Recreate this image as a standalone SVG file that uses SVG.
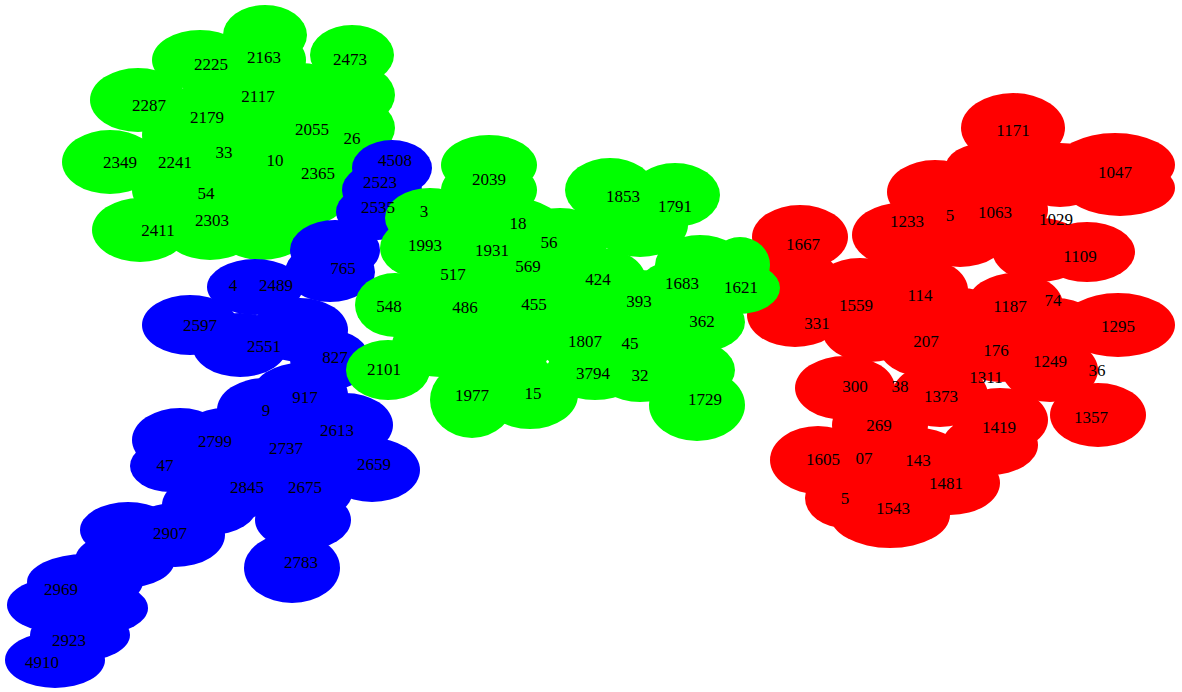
<svg xmlns="http://www.w3.org/2000/svg" width="1182" height="692" viewBox="0 0 1182 692">
<style>
.g{fill:#00ff00}
.b{fill:#0000ff}
.r{fill:#ff0000}
ellipse{stroke:none}
text{font-family:"Liberation Serif","Times New Roman",serif;font-size:17px;fill:#000;text-anchor:middle}
</style>
<rect width="1182" height="692" fill="#fff"/>
<g id="edges"/>
<g id="cluster-green-top" class="g">
<ellipse cx="265" cy="35" rx="42" ry="30"/>
<ellipse cx="352" cy="55" rx="42" ry="30"/>
<ellipse cx="200" cy="60" rx="48" ry="30"/>
<ellipse cx="138" cy="100" rx="48" ry="32"/>
<ellipse cx="110" cy="162" rx="48" ry="32"/>
<ellipse cx="140" cy="230" rx="48" ry="32"/>
<ellipse cx="210" cy="228" rx="48" ry="32"/>
<ellipse cx="262" cy="228" rx="48" ry="32"/>
<ellipse cx="300" cy="195" rx="48" ry="32"/>
<ellipse cx="340" cy="168" rx="48" ry="32"/>
<ellipse cx="350" cy="128" rx="45" ry="32"/>
<ellipse cx="350" cy="95" rx="45" ry="32"/>
<ellipse cx="300" cy="95" rx="48" ry="32"/>
<ellipse cx="250" cy="130" rx="48" ry="32"/>
<ellipse cx="180" cy="190" rx="48" ry="32"/>
<ellipse cx="250" cy="180" rx="48" ry="32"/>
<ellipse cx="230" cy="95" rx="48" ry="32"/>
<ellipse cx="310" cy="140" rx="48" ry="32"/>
<ellipse cx="190" cy="135" rx="48" ry="32"/>
<ellipse cx="175" cy="162" rx="48" ry="32"/>
<ellipse cx="258" cy="60" rx="48" ry="32"/>
</g>
<g id="cluster-blue" class="b">
<ellipse cx="392" cy="168" rx="40" ry="28"/>
<ellipse cx="382" cy="190" rx="40" ry="28"/>
<ellipse cx="378" cy="212" rx="42" ry="28"/>
<ellipse cx="335" cy="250" rx="45" ry="30"/>
<ellipse cx="330" cy="272" rx="45" ry="30"/>
<ellipse cx="255" cy="287" rx="48" ry="28"/>
<ellipse cx="190" cy="325" rx="48" ry="30"/>
<ellipse cx="240" cy="345" rx="48" ry="32"/>
<ellipse cx="300" cy="330" rx="48" ry="32"/>
<ellipse cx="330" cy="360" rx="40" ry="30"/>
<ellipse cx="300" cy="395" rx="48" ry="32"/>
<ellipse cx="265" cy="410" rx="48" ry="32"/>
<ellipse cx="345" cy="425" rx="48" ry="32"/>
<ellipse cx="372" cy="470" rx="48" ry="32"/>
<ellipse cx="180" cy="440" rx="48" ry="32"/>
<ellipse cx="225" cy="440" rx="48" ry="32"/>
<ellipse cx="286" cy="450" rx="48" ry="32"/>
<ellipse cx="170" cy="466" rx="40" ry="26"/>
<ellipse cx="247" cy="485" rx="48" ry="32"/>
<ellipse cx="305" cy="490" rx="48" ry="32"/>
<ellipse cx="303" cy="520" rx="48" ry="30"/>
<ellipse cx="175" cy="535" rx="50" ry="32"/>
<ellipse cx="128" cy="530" rx="48" ry="28"/>
<ellipse cx="210" cy="505" rx="48" ry="30"/>
<ellipse cx="292" cy="568" rx="48" ry="35"/>
<ellipse cx="125" cy="560" rx="50" ry="28"/>
<ellipse cx="85" cy="582" rx="58" ry="28"/>
<ellipse cx="60" cy="605" rx="53" ry="28"/>
<ellipse cx="100" cy="608" rx="48" ry="26"/>
<ellipse cx="80" cy="635" rx="50" ry="26"/>
<ellipse cx="55" cy="660" rx="50" ry="28"/>
</g>
<g id="cluster-red" class="r">
<ellipse cx="1013" cy="128" rx="52" ry="35"/>
<ellipse cx="985" cy="168" rx="40" ry="25"/>
<ellipse cx="1115" cy="165" rx="60" ry="32"/>
<ellipse cx="1120" cy="188" rx="55" ry="28"/>
<ellipse cx="1060" cy="175" rx="48" ry="32"/>
<ellipse cx="935" cy="192" rx="48" ry="32"/>
<ellipse cx="900" cy="235" rx="48" ry="32"/>
<ellipse cx="960" cy="235" rx="48" ry="32"/>
<ellipse cx="1000" cy="210" rx="48" ry="32"/>
<ellipse cx="1040" cy="250" rx="48" ry="32"/>
<ellipse cx="1087" cy="252" rx="48" ry="30"/>
<ellipse cx="800" cy="237" rx="48" ry="32"/>
<ellipse cx="792" cy="275" rx="45" ry="28"/>
<ellipse cx="795" cy="315" rx="48" ry="32"/>
<ellipse cx="860" cy="290" rx="48" ry="32"/>
<ellipse cx="920" cy="290" rx="48" ry="32"/>
<ellipse cx="870" cy="330" rx="48" ry="32"/>
<ellipse cx="960" cy="320" rx="48" ry="32"/>
<ellipse cx="1015" cy="305" rx="48" ry="32"/>
<ellipse cx="1118" cy="325" rx="57" ry="32"/>
<ellipse cx="1055" cy="330" rx="48" ry="32"/>
<ellipse cx="1000" cy="350" rx="48" ry="32"/>
<ellipse cx="1050" cy="370" rx="48" ry="32"/>
<ellipse cx="1098" cy="415" rx="48" ry="32"/>
<ellipse cx="1000" cy="420" rx="48" ry="32"/>
<ellipse cx="940" cy="395" rx="48" ry="32"/>
<ellipse cx="845" cy="388" rx="50" ry="32"/>
<ellipse cx="880" cy="425" rx="48" ry="32"/>
<ellipse cx="818" cy="460" rx="48" ry="34"/>
<ellipse cx="865" cy="455" rx="48" ry="32"/>
<ellipse cx="918" cy="460" rx="48" ry="32"/>
<ellipse cx="950" cy="483" rx="50" ry="32"/>
<ellipse cx="890" cy="515" rx="60" ry="33"/>
<ellipse cx="845" cy="498" rx="40" ry="30"/>
<ellipse cx="990" cy="445" rx="48" ry="30"/>
<ellipse cx="926" cy="345" rx="48" ry="32"/>
</g>
<g id="cluster-green-mid" class="g">
<ellipse cx="489" cy="165" rx="48" ry="30"/>
<ellipse cx="489" cy="190" rx="48" ry="30"/>
<ellipse cx="430" cy="218" rx="45" ry="30"/>
<ellipse cx="420" cy="248" rx="40" ry="30"/>
<ellipse cx="610" cy="190" rx="45" ry="32"/>
<ellipse cx="675" cy="195" rx="45" ry="32"/>
<ellipse cx="640" cy="225" rx="48" ry="32"/>
<ellipse cx="560" cy="240" rx="48" ry="32"/>
<ellipse cx="515" cy="230" rx="48" ry="32"/>
<ellipse cx="490" cy="252" rx="48" ry="32"/>
<ellipse cx="455" cy="275" rx="48" ry="32"/>
<ellipse cx="530" cy="268" rx="48" ry="32"/>
<ellipse cx="598" cy="280" rx="48" ry="32"/>
<ellipse cx="700" cy="265" rx="45" ry="30"/>
<ellipse cx="740" cy="265" rx="30" ry="28"/>
<ellipse cx="738" cy="288" rx="42" ry="26"/>
<ellipse cx="685" cy="290" rx="48" ry="32"/>
<ellipse cx="640" cy="302" rx="48" ry="32"/>
<ellipse cx="700" cy="322" rx="45" ry="30"/>
<ellipse cx="395" cy="305" rx="40" ry="32"/>
<ellipse cx="465" cy="308" rx="48" ry="32"/>
<ellipse cx="534" cy="305" rx="48" ry="32"/>
<ellipse cx="585" cy="340" rx="48" ry="32"/>
<ellipse cx="632" cy="343" rx="48" ry="32"/>
<ellipse cx="510" cy="340" rx="48" ry="32"/>
<ellipse cx="440" cy="345" rx="48" ry="32"/>
<ellipse cx="388" cy="370" rx="42" ry="30"/>
<ellipse cx="472" cy="400" rx="42" ry="38"/>
<ellipse cx="530" cy="395" rx="48" ry="34"/>
<ellipse cx="500" cy="370" rx="48" ry="32"/>
<ellipse cx="595" cy="370" rx="48" ry="30"/>
<ellipse cx="640" cy="372" rx="45" ry="30"/>
<ellipse cx="690" cy="370" rx="45" ry="30"/>
<ellipse cx="697" cy="405" rx="48" ry="36"/>
</g>
<g id="labels">
<g id="n2225"><text x="211" y="70">2225</text></g>
<g id="n2163"><text x="264" y="63">2163</text></g>
<g id="n2473"><text x="350" y="65">2473</text></g>
<g id="n2287"><text x="149" y="111">2287</text></g>
<g id="n2117"><text x="258" y="102">2117</text></g>
<g id="n2179"><text x="207" y="123">2179</text></g>
<g id="n2055"><text x="312" y="135">2055</text></g>
<g id="n2349"><text x="120" y="168">2349</text></g>
<g id="n2241"><text x="175" y="168">2241</text></g>
<g id="n10"><text x="275" y="166">10</text></g>
<g id="n33"><text x="224" y="158">33</text></g>
<g id="n26"><text x="352" y="144">26</text></g>
<g id="n2365"><text x="318" y="179">2365</text></g>
<g id="n54"><text x="206" y="199">54</text></g>
<g id="n2411"><text x="158" y="236">2411</text></g>
<g id="n2303"><text x="212" y="226">2303</text></g>

<g id="n4508"><text x="395" y="166">4508</text></g>
<g id="n2523"><text x="380" y="188">2523</text></g>
<g id="n2535"><text x="378" y="213">2535</text></g>
<g id="n765"><text x="343" y="274">765</text></g>
<g id="n4"><text x="233" y="291">4</text></g>
<g id="n2489"><text x="276" y="291">2489</text></g>
<g id="n2597"><text x="200" y="331">2597</text></g>
<g id="n2551"><text x="264" y="352">2551</text></g>
<g id="n827"><text x="335" y="363">827</text></g>
<g id="n917"><text x="305" y="403">917</text></g>
<g id="n9"><text x="266" y="416">9</text></g>
<g id="n2613"><text x="337" y="436">2613</text></g>
<g id="n2799"><text x="215" y="447">2799</text></g>
<g id="n2737"><text x="286" y="454">2737</text></g>
<g id="n47"><text x="165" y="471">47</text></g>
<g id="n2659"><text x="374" y="470">2659</text></g>
<g id="n2845"><text x="247" y="493">2845</text></g>
<g id="n2675"><text x="305" y="493">2675</text></g>
<g id="n2907"><text x="170" y="539">2907</text></g>
<g id="n2783"><text x="301" y="568">2783</text></g>
<g id="n2969"><text x="61" y="595">2969</text></g>
<g id="n2923"><text x="69" y="646">2923</text></g>
<g id="n4910"><text x="42" y="668">4910</text></g>

<g id="n2039"><text x="489" y="185">2039</text></g>
<g id="n1853"><text x="623" y="202">1853</text></g>
<g id="n1791"><text x="675" y="212">1791</text></g>
<g id="n3"><text x="424" y="217">3</text></g>
<g id="n18"><text x="518" y="229">18</text></g>
<g id="n56"><text x="549" y="248">56</text></g>
<g id="n1993"><text x="425" y="251">1993</text></g>
<g id="n1931"><text x="492" y="256">1931</text></g>
<g id="n517"><text x="453" y="280">517</text></g>
<g id="n569"><text x="528" y="272">569</text></g>
<g id="n424"><text x="598" y="285">424</text></g>
<g id="n1683"><text x="682" y="289">1683</text></g>
<g id="n1621"><text x="741" y="293">1621</text></g>
<g id="n548"><text x="389" y="312">548</text></g>
<g id="n486"><text x="465" y="313">486</text></g>
<g id="n455"><text x="534" y="310">455</text></g>
<g id="n393"><text x="639" y="307">393</text></g>
<g id="n362"><text x="702" y="327">362</text></g>
<g id="n1807"><text x="585" y="347">1807</text></g>
<g id="n45"><text x="630" y="349">45</text></g>
<g id="n2101"><text x="384" y="375">2101</text></g>
<g id="n3794"><text x="593" y="379">3794</text></g>
<g id="n32"><text x="640" y="381">32</text></g>
<g id="n1977"><text x="472" y="401">1977</text></g>
<g id="n15"><text x="533" y="399">15</text></g>
<g id="n1729"><text x="705" y="405">1729</text></g>

<g id="n1171"><text x="1013" y="136">1171</text></g>
<g id="n1047"><text x="1115" y="178">1047</text></g>
<g id="n1233"><text x="907" y="227">1233</text></g>
<g id="n5a"><text x="950" y="221">5</text></g>
<g id="n1063"><text x="995" y="218">1063</text></g>
<g id="n1029"><text x="1056" y="225">1029</text></g>
<g id="n1109"><text x="1080" y="262">1109</text></g>
<g id="n1667"><text x="803" y="250">1667</text></g>
<g id="n1559"><text x="856" y="311">1559</text></g>
<g id="n114"><text x="920" y="301">114</text></g>
<g id="n1187"><text x="1010" y="312">1187</text></g>
<g id="n74"><text x="1053" y="306">74</text></g>
<g id="n331"><text x="817" y="329">331</text></g>
<g id="n1295"><text x="1118" y="332">1295</text></g>
<g id="n207"><text x="926" y="347">207</text></g>
<g id="n176"><text x="996" y="356">176</text></g>
<g id="n1249"><text x="1050" y="367">1249</text></g>
<g id="n36"><text x="1097" y="376">36</text></g>
<g id="n1311"><text x="986" y="383">1311</text></g>
<g id="n300"><text x="855" y="392">300</text></g>
<g id="n38"><text x="900" y="392">38</text></g>
<g id="n1373"><text x="941" y="402">1373</text></g>
<g id="n1357"><text x="1091" y="423">1357</text></g>
<g id="n1419"><text x="999" y="433">1419</text></g>
<g id="n269"><text x="879" y="431">269</text></g>
<g id="n1605"><text x="823" y="465">1605</text></g>
<g id="n07"><text x="864" y="464">07</text></g>
<g id="n1435"><text x="918" y="466">143</text></g>
<g id="n1481"><text x="946" y="489">1481</text></g>
<g id="n5b"><text x="845" y="504">5</text></g>
<g id="n1543"><text x="893" y="514">1543</text></g>
</g>
</svg>
